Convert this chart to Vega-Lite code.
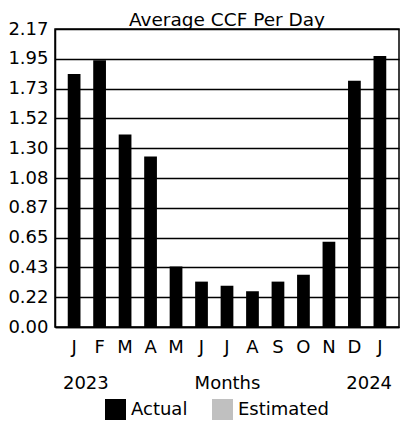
{
  "$schema": "https://vega.github.io/schema/vega-lite/v6.json",
  "width": 344,
  "height": 298,
  "autosize": "none",
  "padding": {"left": 55, "top": 29, "right": 2, "bottom": 97},
  "background": "white",
  "config": {
    "font": "DejaVu Sans",
    "view": {"stroke": "black", "strokeWidth": 1.5}
  },
  "title": {"text": "Average CCF Per Day", "fontSize": 18.5, "fontWeight": "normal", "color": "black", "offset": -9, "anchor": "middle"},
  "data": {
    "values": [
      {"month": "Jan 2023", "ccf": 1.84, "type": "Actual"},
      {"month": "Feb 2023", "ccf": 1.94, "type": "Actual"},
      {"month": "Mar 2023", "ccf": 1.40, "type": "Actual"},
      {"month": "Apr 2023", "ccf": 1.24, "type": "Actual"},
      {"month": "May 2023", "ccf": 0.44, "type": "Actual"},
      {"month": "Jun 2023", "ccf": 0.33, "type": "Actual"},
      {"month": "Jul 2023", "ccf": 0.30, "type": "Actual"},
      {"month": "Aug 2023", "ccf": 0.26, "type": "Actual"},
      {"month": "Sep 2023", "ccf": 0.33, "type": "Actual"},
      {"month": "Oct 2023", "ccf": 0.38, "type": "Actual"},
      {"month": "Nov 2023", "ccf": 0.62, "type": "Actual"},
      {"month": "Dec 2023", "ccf": 1.79, "type": "Actual"},
      {"month": "Jan 2024", "ccf": 1.97, "type": "Actual"}
    ]
  },
  "mark": {"type": "bar"},
  "encoding": {
    "x": {
      "field": "month",
      "type": "nominal",
      "sort": null,
      "scale": {"paddingInner": 0.5, "paddingOuter": 0.5},
      "axis": {
        "labelExpr": "substring(datum.label, 0, 1)",
        "labelAngle": 0,
        "labelFontSize": 18,
        "labelColor": "black",
        "labelPadding": 11,
        "ticks": false,
        "domainColor": "black",
        "domainWidth": 1.5,
        "title": "2023\u00a0\u00a0\u00a0\u00a0\u00a0\u00a0\u00a0\u00a0\u00a0\u00a0\u00a0\u00a0\u00a0\u00a0\u00a0Months\u00a0\u00a0\u00a0\u00a0\u00a0\u00a0\u00a0\u00a0\u00a0\u00a0\u00a0\u00a0\u00a0\u00a0\u00a02024",
        "titleFontSize": 18,
        "titleFontWeight": "normal",
        "titleColor": "black",
        "titlePadding": 18
      }
    },
    "y": {
      "field": "ccf",
      "type": "quantitative",
      "scale": {"domain": [0, 2.167], "nice": false},
      "axis": {
        "values": [0, 0.2167, 0.4334, 0.6501, 0.8668, 1.0835, 1.3002, 1.5169, 1.7336, 1.9503, 2.167],
        "format": ".2f",
        "title": null,
        "ticks": false,
        "labelFontSize": 18,
        "labelColor": "black",
        "labelPadding": 7,
        "domainColor": "black",
        "domainWidth": 1.5,
        "grid": true,
        "gridColor": "black",
        "gridWidth": 1.5,
        "gridOpacity": 1
      }
    },
    "color": {
      "field": "type",
      "type": "nominal",
      "scale": {"domain": ["Actual", "Estimated"], "range": ["black", "#c0c0c0"]},
      "legend": {
        "title": null,
        "orient": "none",
        "legendX": 50,
        "legendY": 370,
        "direction": "horizontal",
        "columns": 2,
        "symbolType": "square",
        "symbolSize": 441,
        "symbolStrokeWidth": 0,
        "labelFontSize": 18,
        "labelColor": "black",
        "labelOffset": 5,
        "columnPadding": 24
      }
    }
  }
}
